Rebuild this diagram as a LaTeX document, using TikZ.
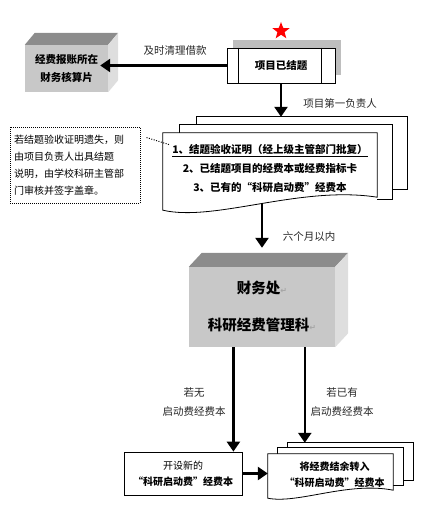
\documentclass[tikz,border=0pt]{standalone}
\usepackage{fontspec}
\setmainfont{Noto Sans CJK SC}
\newfontfamily\symfont{DejaVu Sans}
\usetikzlibrary{arrows.meta,positioning,shapes.geometric,calc,shadows}
\definecolor{boxfront}{RGB}{200,200,200}
\definecolor{boxtop}{RGB}{140,140,140}
\definecolor{boxside}{RGB}{222,222,222}
\definecolor{shadowgray}{RGB}{190,190,190}
\newcommand{\pmark}{{\symfont\fontsize{8}{8}\selectfont\color{gray!70}↵}}

\begin{document}
\begin{tikzpicture}[x=1pt, y=-1pt,
  flow/.style={-{Triangle[length=10pt,width=13pt]}, line width=2.6pt},
  frontface/.style={fill=boxfront, inner sep=0pt, align=center},
  page/.style={draw=black, line width=0.8pt},
  tag/.style={font=\fontsize{10.5}{19}\selectfont, text=black!85, align=center, inner sep=1pt}]

\useasboundingbox (0,0) rectangle (420,532);

% project finished
\node[star, star points=5, star point ratio=2.4, fill=red, minimum size=18pt, inner sep=0pt] (mark) at (281,31) {};
\node[draw, line width=0.8pt, fill=white, minimum width=108pt, minimum height=35pt,
  drop shadow={shadow xshift=6pt, shadow yshift=7.5pt, fill=shadowgray, opacity=1},
  font=\fontsize{10.5}{12}\selectfont\bfseries] (done) at (281,65.5) {项目已结题};
\draw[line width=0.8pt] ($(done.north west)+(12,0)$) -- ($(done.south west)+(12,0)$)
  ($(done.north east)+(-14,0)$) -- ($(done.south east)+(-14,0)$);

\node[frontface, minimum width=83pt, minimum height=47pt,
  font=\fontsize{10.5}{18}\selectfont\bfseries] (desk) at (66.5,68.5) {经费报账所在\\财务核算片};
\fill[boxtop] (desk.north west) -- ++(10,-12) -- ($(desk.north east)+(10,-12)$) -- (desk.north east) -- cycle;
\fill[boxside] (desk.north east) -- ++(10,-12) -- ($(desk.south east)+(10,-12)$) -- (desk.south east) -- cycle;

\draw[flow, shorten >=-8pt] (done.west) -- (done.west -| desk.east);
\node[tag] (lblclear) at (175,51) {及时清理借款};

% documents to hand in
\node[minimum width=214pt, minimum height=71pt, inner sep=0pt] (docs) at (270,168.5) {};
\coordinate (backtop) at ($(docs.north)+(0,-16)$);
\draw[page] ($(docs.north west)+(34,-8)$) -- ++(0,-8) -- ($(docs.north east)+(30,-16)$) -- ++(0,73) -- ++(-15,0);
\draw[page] ($(docs.north west)+(17,0)$) -- ++(0,-8) -- ($(docs.north east)+(15,-8)$) -- ++(0,75) -- ++(-15,0);
\draw[page, fill=white] ($(docs.south west)+(0,6)$) -- (docs.north west) -- (docs.north east) -- ($(docs.south east)+(0,-7)$)
  .. controls ($(docs.south east)+(-77,-19)$) and ($(docs.south west)+(52,18)$) .. ($(docs.south west)+(0,6)$) -- cycle;
\node[font=\fontsize{10.5}{19}\selectfont\bfseries, align=center] (docstext) at (docs.center)
  {\underline{1、结题验收证明（经上级主管部门批复）}\\2、已结题项目的经费本或经费指标卡\\3、已有的“科研启动费”经费本};

\draw[flow] (done.south) -- (done.south |- backtop);
\node[tag] (lblhead) at (340,103) {项目第一负责人};

\node[draw, line width=1pt, dash pattern=on 1pt off 1pt, minimum width=130pt, minimum height=76pt,
  text width=122pt, align=left, font=\fontsize{10}{17}\selectfont] (lost) at (75,165)
  {若结题验收证明遗失，则\\由项目负责人出具结题\\说明，由学校科研主管部\\门审核并签字盖章。};
\draw[line width=1pt, dash pattern=on 1pt off 1.5pt] ($(lost.north east)+(6,11)$) -- ($(docs.north west)+(7,12)$);

% finance office
\node[frontface, minimum width=146pt, minimum height=80pt,
  font=\fontsize{14.5}{37}\selectfont\bfseries] (fin) at (262,307) {财务处\pmark\\科研经费管理科\pmark};
\fill[boxtop] (fin.north west) -- ++(13,-14) -- ($(fin.north east)+(13,-14)$) -- (fin.north east) -- cycle;
\fill[boxside] (fin.north east) -- ++(13,-14) -- ($(fin.south east)+(13,-14)$) -- (fin.south east) -- cycle;

\draw[flow] (docs.south -| fin.north) -- ($(fin.north)+(0,-19)$);
\node[tag] (lblsix) at (309,237) {六个月以内};

% new or existing book
\node[draw, line width=0.8pt, minimum width=118pt, minimum height=43pt, align=center,
  font=\fontsize{10}{16}\selectfont] (newbook) at (183,473.5) {开设新的\\\textbf{“科研启动费”经费本}};

\node[minimum width=125pt, minimum height=38pt, inner sep=0pt] (trans) at (330.5,473) {};
\draw[page] ($(trans.north west)+(20,-6)$) -- ++(0,-5) -- ($(trans.north east)+(20,-11)$) -- ++(0,38) -- ++(-10,0);
\draw[page] ($(trans.north west)+(10,0)$) -- ++(0,-6) -- ($(trans.north east)+(10,-6)$) -- ++(0,38) -- ++(-10,0);
\draw[page, fill=white] ($(trans.south west)+(0,6)$) -- (trans.north west) -- (trans.north east) -- ($(trans.south east)+(0,-2)$)
  .. controls ($(trans.south east)+(-45,-11)$) and ($(trans.south west)+(30,12)$) .. ($(trans.south west)+(0,6)$) -- cycle;
\node[font=\fontsize{10}{16}\selectfont\bfseries, align=center] (transtext) at ($(trans.center)+(4,2)$)
  {将经费结余转入\\“科研启动费”经费本};

\coordinate (nb) at ($(newbook.north east)+(-9,0)$);
\coordinate (tb) at ($(trans.north west)+(37,-11)$);
\draw[flow] (fin.south -| nb) -- (nb);
\draw[flow] (fin.south -| tb) -- (tb);
\draw[flow] (newbook.east) -- (newbook.east -| trans.west);

\node[tag] (lblnone) at (194,402) {若无\\启动费经费本};
\node[tag] (lblhave) at (342,402) {若已有\\启动费经费本};

\end{tikzpicture}
\end{document}
